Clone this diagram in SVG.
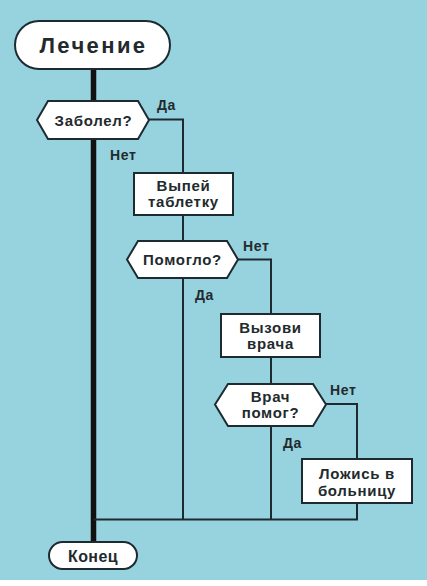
<svg xmlns="http://www.w3.org/2000/svg" width="427" height="586" viewBox="0 0 427 586">
<style>
.bg{fill:#97d2df}
.shape{fill:#ffffff;stroke:#1d2b30;stroke-width:2}
.conn{fill:none;stroke:#1d2b30;stroke-width:2}
.main{fill:none;stroke:#111111;stroke-width:5.5}
text{font-family:"Liberation Sans",Arial,sans-serif;font-weight:bold;fill:#222a2d}
.t{font-size:15px;letter-spacing:0.7px;text-anchor:middle}
.lbl{font-size:14px;letter-spacing:0.6px}
.title{font-size:22px;letter-spacing:2.4px;text-anchor:middle}
.endt{font-size:16px;letter-spacing:0.4px;text-anchor:middle}
</style>
<rect x="0" y="0" width="427" height="586" fill="#ffffff"/>
<rect class="bg" x="0" y="0" width="427" height="580"/>
<g id="connectors">
<path class="main" d="M93.5 69 V542"/>
<path class="conn" d="M149 119.5 H183 V173"/>
<path class="conn" d="M183 215 V519.5"/>
<path class="conn" d="M238 259.5 H271 V314"/>
<path class="conn" d="M271 357 V519.5"/>
<path class="conn" d="M326 404 H357 V459"/>
<path class="conn" d="M357 503 V519.5"/>
<path class="conn" d="M93.5 519.5 H358"/>
<text class="lbl" x="157" y="110">Да</text>
<text class="lbl" x="110" y="160">Нет</text>
<text class="lbl" x="243" y="251">Нет</text>
<text class="lbl" x="195" y="300">Да</text>
<text class="lbl" x="330" y="395">Нет</text>
<text class="lbl" x="283" y="448">Да</text>
</g>
<g id="start">
<rect class="shape" x="15" y="21" width="155" height="48" rx="24"/>
<text class="title" x="93.5" y="53">Лечение</text>
</g>
<g id="q1">
<polygon class="shape" points="37,120 48,101 138,101 149,120 138,139 48,139"/>
<text class="t" x="93.5" y="125.5">Заболел?</text>
</g>
<g id="pill">
<rect class="shape" x="134" y="173" width="99" height="42"/>
<text class="t" x="183.5" y="191">Выпей</text>
<text class="t" x="183.5" y="207">таблетку</text>
</g>
<g id="q2">
<polygon class="shape" points="127,259.5 138,241 227,241 238,259.5 227,278 138,278"/>
<text class="t" x="182.5" y="265">Помогло?</text>
</g>
<g id="doctor">
<rect class="shape" x="221" y="314" width="99" height="43"/>
<text class="t" x="270.5" y="333">Вызови</text>
<text class="t" x="270.5" y="348.5">врача</text>
</g>
<g id="q3">
<polygon class="shape" points="215,404.5 228,384 313,384 326,404.5 313,426 228,426"/>
<text class="t" x="270.5" y="402">Врач</text>
<text class="t" x="270.5" y="418">помог?</text>
</g>
<g id="hospital">
<rect class="shape" x="302" y="459" width="110" height="44"/>
<text class="t" x="357" y="479">Ложись в</text>
<text class="t" x="357" y="496">больницу</text>
</g>
<g id="end">
<rect class="shape" x="49" y="542" width="88" height="27" rx="13.5"/>
<text class="endt" x="93" y="562">Конец</text>
</g>
</svg>
